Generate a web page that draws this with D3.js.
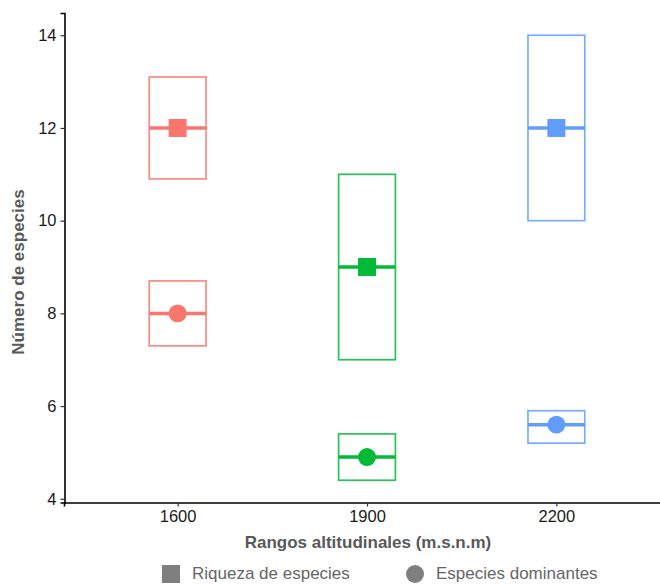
<!DOCTYPE html>
<html>
<head>
<meta charset="utf-8">
<script src="https://cdn.jsdelivr.net/npm/d3@7"></script>
<style>
  body { margin: 0; background: #fff; }
  svg { display: block; font-family: "Liberation Sans", Arial, sans-serif; }
</style>
</head>
<body>
<svg id="chart" width="660" height="584"></svg>
<script>
// data
const rangos = ['1600', '1900', '2200'];
const colores = ['#F8766D', '#00BA38', '#619CFF'];

const riqueza = [12, 9, 12];
const riquezaMin = [10.9, 7, 10];
const riquezaMax = [13.1, 11, 14];

const dominantes = [8, 4.9, 5.6];
const dominantesMin = [7.3, 4.4, 5.2];
const dominantesMax = [8.7, 5.4, 5.9];

const yTicks = [4, 6, 8, 10, 12, 14];
const leyenda = ['Riqueza de especies', 'Especies dominantes'];

const svg = d3.select('#chart');

const x = d3.scalePoint()
    .domain(rangos)
    .range([64, 670])
    .padding(0.6);

const y = d3.scaleLinear()
    .domain([3.92, 14.48])
    .range([502.5, 13]);

const boxWidth = x.step() * 0.3;

// axes
const yAxis = svg.append('g')
    .attr('transform', 'translate(64.5,0)')
    .call(d3.axisLeft(y).tickValues(yTicks).tickSize(4).tickPadding(4).tickFormat(d3.format('d')));

const xAxis = svg.append('g')
    .attr('transform', 'translate(0,502.5)')
    .call(d3.axisBottom(x).tickSize(4).tickPadding(4));

[yAxis, xAxis].forEach(ax => {
    ax.select('.domain').attr('stroke', '#000').attr('stroke-width', 1.6);
    ax.selectAll('.tick line').attr('stroke', '#333').attr('stroke-width', 1.2);
    ax.selectAll('.tick text')
        .attr('fill', '#1a1a1a')
        .attr('font-size', 16.5)
        .attr('font-family', '"Liberation Sans", Arial, sans-serif');
});

// build rows for crossbars
const filas = [];
rangos.forEach((r, i) => {
    filas.push({ rango: r, tipo: 'riqueza', media: riqueza[i], min: riquezaMin[i], max: riquezaMax[i], color: colores[i] });
    filas.push({ rango: r, tipo: 'dominantes', media: dominantes[i], min: dominantesMin[i], max: dominantesMax[i], color: colores[i] });
});

const g = svg.append('g');

g.selectAll('rect.box')
    .data(filas)
    .join('rect')
    .attr('class', 'box')
    .attr('x', d => x(d.rango) - boxWidth / 2)
    .attr('width', boxWidth)
    .attr('y', d => y(d.max))
    .attr('height', d => y(d.min) - y(d.max))
    .attr('fill', 'none')
    .attr('stroke', d => d.color)
    .attr('stroke-opacity', 0.85)
    .attr('stroke-width', 1.7);

g.selectAll('line.media')
    .data(filas)
    .join('line')
    .attr('class', 'media')
    .attr('x1', d => x(d.rango) - boxWidth / 2)
    .attr('x2', d => x(d.rango) + boxWidth / 2)
    .attr('y1', d => y(d.media))
    .attr('y2', d => y(d.media))
    .attr('stroke', d => d.color)
    .attr('stroke-width', 3.5);

const simbolo = d3.symbol().size(d => d.tipo === 'riqueza' ? 324 : 254)
    .type(d => d.tipo === 'riqueza' ? d3.symbolSquare : d3.symbolCircle);

g.selectAll('path.punto')
    .data(filas)
    .join('path')
    .attr('class', 'punto')
    .attr('transform', d => `translate(${x(d.rango)},${y(d.media)})`)
    .attr('d', simbolo)
    .attr('fill', d => d.color);

// axis titles
svg.append('text')
    .attr('x', 368)
    .attr('y', 548)
    .attr('text-anchor', 'middle')
    .attr('font-size', 17)
    .attr('font-weight', 'bold')
    .attr('fill', '#595959')
    .text('Rangos altitudinales (m.s.n.m)');

svg.append('text')
    .attr('transform', 'translate(24,272) rotate(-90)')
    .attr('text-anchor', 'middle')
    .attr('font-size', 17)
    .attr('font-weight', 'bold')
    .attr('fill', '#595959')
    .text('Número de especies');

// legend (the reference crops it at the bottom edge; keep text just inside)
const legX = [171, 415];
const leg = svg.append('g');
leyenda.forEach((t, i) => {
    const tipo = i === 0 ? 'riqueza' : 'dominantes';
    leg.append('path')
        .attr('transform', `translate(${legX[i]},574)`)
        .attr('d', simbolo({ tipo }))
        .attr('fill', '#7f7f7f');
    leg.append('text')
        .attr('x', legX[i] + 21)
        .attr('y', 579)
        .attr('font-size', 17)
        .attr('fill', '#666')
        .text(t);
});
</script>
</body>
</html>
